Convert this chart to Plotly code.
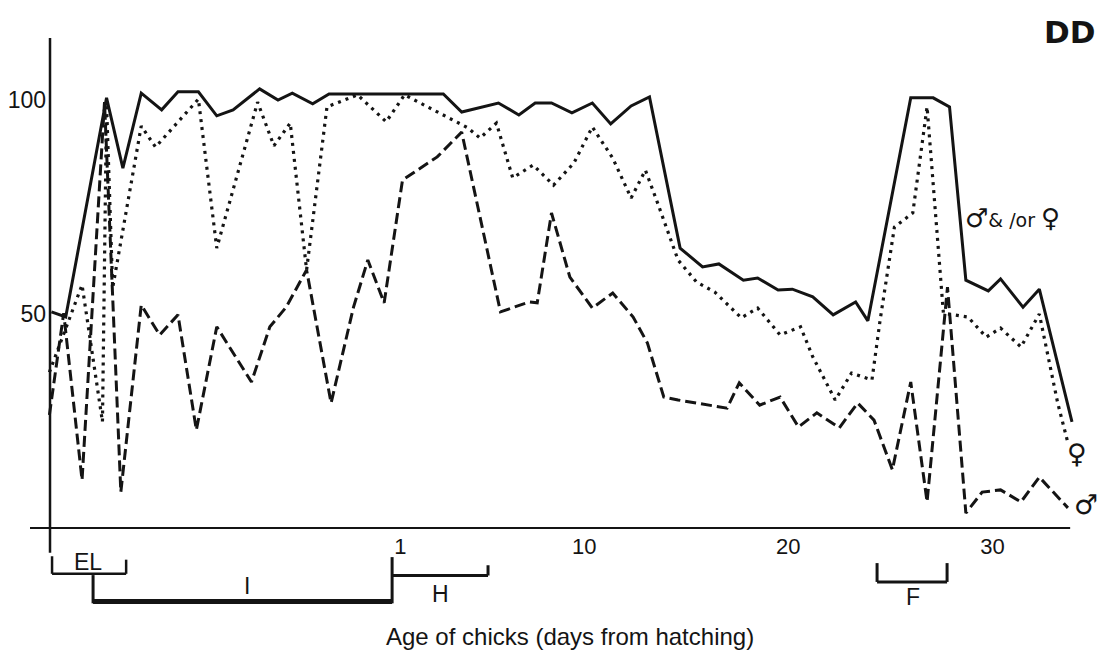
import plotly.graph_objects as go

# Percentage of observations with a parent present.
# x is in days from hatching; values left of 1 fall in the incubation span.

# both parents together ("male and/or female") - solid
either_x = [-16.1, -15.4, -13.4, -12.6, -11.7, -10.7, -9.9, -8.9, -8.0, -7.2, -5.9, -5.0,
            -4.3, -3.3, -2.5, 3.1, 4.0, 5.8, 6.8, 7.6, 8.4, 9.4, 10.4, 11.3, 12.3, 13.2,
            14.7, 15.8, 16.6, 17.8, 18.5, 19.5, 20.2, 21.2, 22.2, 23.3, 23.9, 26.0, 27.1,
            27.9, 28.7, 29.8, 30.4, 31.5, 32.3, 33.9]
either_y = [50.5, 49.3, 100.5, 84.1, 101.6, 97.7, 101.9, 101.9, 96.3, 97.7, 102.6, 100.0,
            101.6, 99.1, 101.4, 101.4, 97.2, 99.3, 96.5, 99.3, 99.3, 97.0, 99.3, 94.4, 98.6,
            100.7, 65.4, 61.0, 61.7, 57.9, 58.4, 55.6, 55.8, 54.0, 49.8, 52.8, 48.4, 100.5,
            100.5, 98.4, 57.9, 55.4, 58.2, 51.6, 55.8, 24.8]

# female - dotted
female_x = [-16.2, -14.6, -13.6, -13.4, -13.1, -11.7, -11.0, -8.9, -8.0, -6.0, -5.2, -4.4,
            -3.6, -2.6, -1.1, 0.3, 1.2, 4.3, 4.9, 5.7, 6.5, 7.5, 8.5, 9.5, 10.4, 11.4, 12.3,
            13.0, 13.6, 14.6, 15.5, 16.4, 17.7, 18.5, 19.6, 20.6, 21.2, 22.3, 23.1, 24.1,
            24.5, 25.2, 26.1, 26.8, 27.6, 28.8, 29.7, 30.4, 31.4, 32.3, 33.2, 33.7]
female_y = [36.4, 56.8, 24.8, 99.1, 56.1, 93.9, 89.0, 100.2, 65.4, 99.5, 89.3, 94.6, 60.3,
            98.4, 101.2, 94.9, 101.2, 93.5, 91.1, 94.6, 81.8, 84.8, 80.1, 85.3, 93.7, 86.4,
            77.1, 83.6, 75.9, 62.6, 57.5, 55.1, 49.1, 51.4, 45.1, 47.0, 40.0, 29.9, 36.2,
            34.6, 48.6, 70.3, 73.6, 98.4, 50.2, 49.3, 44.6, 46.7, 42.3, 50.0, 29.2, 19.9]

# male - dashed
male_x = [-16.2, -15.5, -14.6, -13.5, -12.7, -11.7, -10.8, -9.9, -9.0, -8.0, -6.3, -5.4,
          -4.6, -3.6, -2.4, -1.3, -0.6, 0.2, 1.1, 2.0, 2.8, 4.0, 5.9, 7.3, 7.7, 8.4, 9.3,
          10.4, 11.4, 12.4, 13.1, 13.9, 14.6, 17.0, 17.6, 18.6, 19.6, 20.5, 21.4, 22.5,
          23.4, 24.2, 25.1, 26.0, 26.8, 27.8, 28.7, 29.5, 30.4, 31.4, 32.3, 33.7]
male_y = [26.4, 50.2, 11.2, 99.5, 8.4, 52.1, 45.1, 49.8, 22.9, 47.0, 34.1, 47.0, 51.6,
          60.3, 29.2, 51.6, 62.6, 52.6, 81.3, 84.1, 86.7, 92.5, 50.5, 52.8, 52.6, 73.6,
          58.6, 51.4, 54.9, 49.3, 43.2, 30.6, 29.9, 28.0, 33.9, 28.7, 30.6, 23.6, 26.9,
          23.4, 29.2, 25.2, 13.6, 34.1, 6.1, 56.3, 3.5, 8.4, 8.9, 6.1, 11.9, 4.7]

x_tick_vals = [1, 10, 20, 30]
x_tick_text = ["1", "10", "20", "30"]
y_tick_vals = [50, 100]
y_tick_text = ["50", "100"]

# breeding stages shown as brackets under the axis
stage_names = ["EL", "I", "H", "F"]

W, H = 1112, 660
X_RANGE = [-18.62, 35.86]
Y_RANGE = [-30.84, 123.36]
Y_AXIS_AT = -16.17          # day position where the vertical axis is drawn
X_AXIS_END = [-17.15, 33.81]
Y_AXIS_END = [-5.8, 114.5]

INK = "#141414"
FONT = "Liberation Sans, Arial, DejaVu Sans, sans-serif"
SYM_FONT = "DejaVu Sans, sans-serif"

fig = go.Figure()
fig.add_trace(go.Scatter(x=either_x, y=either_y, mode="lines", cliponaxis=False,
                         line=dict(color=INK, width=3), name="either"))
fig.add_trace(go.Scatter(x=female_x, y=female_y, mode="lines", cliponaxis=False,
                         line=dict(color=INK, width=3.2, dash="3px,5px"), name="female"))
fig.add_trace(go.Scatter(x=male_x, y=male_y, mode="lines", cliponaxis=False,
                         line=dict(color=INK, width=3, dash="11px,5px"), name="male"))

shapes = []


def seg(x0, y0, x1, y1, w=2.5):
    shapes.append(dict(type="line", xref="x", yref="y", x0=x0, y0=y0, x1=x1, y1=y1,
                       line=dict(color=INK, width=w)))


# axes
seg(Y_AXIS_AT, Y_AXIS_END[0], Y_AXIS_AT, Y_AXIS_END[1], 2.5)
seg(X_AXIS_END[0], 0, X_AXIS_END[1], 0, 2.2)

# EL bracket
seg(-16.07, -6.6, -16.07, -10.7)
seg(-16.07, -10.7, -12.44, -10.7)
seg(-12.44, -10.7, -12.44, -7.4)
# I bracket (heavy)
seg(-14.06, -11.0, -14.06, -17.6, 3)
seg(-14.06, -17.2, 0.59, -17.2, 5)
seg(0.59, -17.6, 0.59, -6.8, 3)
# H bracket
seg(0.59, -11.1, 5.29, -11.1, 3)
seg(5.29, -11.1, 5.29, -8.7, 3)
# F bracket
seg(24.35, -8.2, 24.35, -12.6, 3)
seg(24.35, -12.6, 27.78, -12.6, 3)
seg(27.78, -12.6, 27.78, -8.2, 3)

ann = []


def label(x, y, text, size, xref="x", yref="y", family=FONT):
    ann.append(dict(x=x, y=y, xref=xref, yref=yref, text=text,
                    showarrow=False, xanchor="center", yanchor="middle",
                    font=dict(family=family, size=size, color=INK)))


stage_pos = [(-14.3, -7.9), (-6.5, -13.6), (2.94, -15.4), (26.1, -16.1)]
for name, (sx, sy) in zip(stage_names, stage_pos):
    label(sx, sy, name, 23)

label(31.0, 72.4,
      '<span style="font-size:26px">\u2642</span>& /or '
      '<span style="font-size:26px">\u2640</span>', 19, family=SYM_FONT)
label(34.15, 17.3, "\u2640", 27, family=SYM_FONT)
label(34.6, 5.6, "\u2642", 27, family=SYM_FONT)
label(570 / W, 1 - 636 / H, "Age of chicks (days from hatching)", 24, "paper", "paper")
label(1069 / W, 1 - 32 / H, "<b>DD</b>", 31, "paper", "paper", family=SYM_FONT)

x_pos = (0 - Y_RANGE[0]) / (Y_RANGE[1] - Y_RANGE[0])
y_pos = (Y_AXIS_AT - X_RANGE[0]) / (X_RANGE[1] - X_RANGE[0])

fig.update_layout(
    width=W, height=H,
    margin=dict(l=0, r=0, t=0, b=0),
    paper_bgcolor="white", plot_bgcolor="white",
    showlegend=False,
    shapes=shapes, annotations=ann,
    xaxis=dict(range=X_RANGE, domain=[0, 1], anchor="free", position=x_pos,
               showgrid=False, zeroline=False, showline=False, ticks="",
               ticklabelstandoff=3,
               tickvals=x_tick_vals, ticktext=x_tick_text,
               tickfont=dict(family=FONT, size=22, color=INK), fixedrange=True),
    yaxis=dict(range=Y_RANGE, domain=[0, 1], anchor="free", position=y_pos,
               showgrid=False, zeroline=False, showline=False, ticks="",
               ticklabelstandoff=4,
               tickvals=y_tick_vals, ticktext=y_tick_text,
               tickfont=dict(family=FONT, size=23, color=INK), fixedrange=True),
)

fig.write_html("out.html", config={"displayModeBar": False})
